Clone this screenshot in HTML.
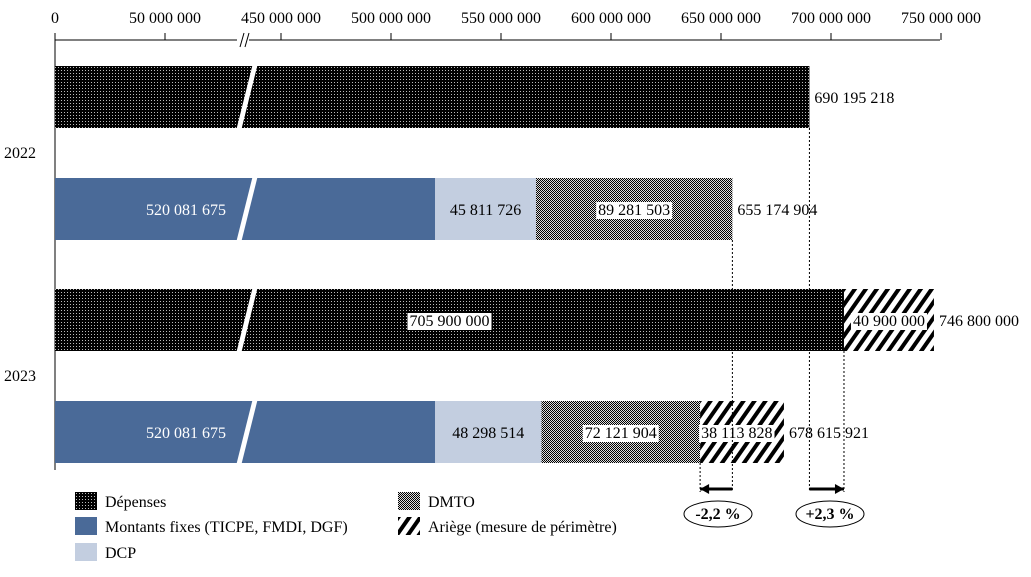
<!DOCTYPE html>
<html><head><meta charset="utf-8"><style>
body{margin:0;background:#fff}
svg{display:block;font-family:"Liberation Serif",serif}
</style></head><body>
<svg id="c" width="1031" height="577" viewBox="0 0 1031 577">
<defs>
<pattern id="pDep" width="3" height="3" patternUnits="userSpaceOnUse"><rect width="3" height="3" fill="#000"/><rect x="1" y="1" width="1" height="1" fill="#bbb"/></pattern>
<pattern id="pDmto" width="2" height="2" patternUnits="userSpaceOnUse"><rect width="2" height="2" fill="#ddd"/><rect width="1" height="1" fill="#000"/><rect x="1" y="1" width="1" height="1" fill="#000"/></pattern>
<pattern id="pAri" width="9" height="9" patternUnits="userSpaceOnUse" patternTransform="rotate(35)"><rect width="9" height="9" fill="#fff"/><rect width="4" height="9" fill="#000"/></pattern>
</defs>
<g id="axis"></g><g id="bars"></g><g id="ann"></g><g id="legend"></g>
</svg>
<script>
const years=["2022","2023"];
const dep=[690195218,705900000];
const ariegeDep=[0,40900000];
const fixes=[520081675,520081675];
const dcp=[45811726,48298514];
const dmto=[89281503,72121904];
const ariegeRec=[0,38113828];
const tickVals=[0,50000000,450000000,500000000,550000000,600000000,650000000,700000000,750000000];
const NS="http://www.w3.org/2000/svg";
const FS=16;
function x(v){return v<=200000000?55+v*110/50000000:281+(v-450000000)*2.2/1e6;}
function fmt(v){return String(Math.round(v)).replace(/\B(?=(\d{3})+(?!\d))/g," ");}
function mk(p,t,a){const e=document.createElementNS(NS,t);for(const k in a)e.setAttribute(k,a[k]);p.appendChild(e);return e;}
const ax=document.getElementById('axis'),bars=document.getElementById('bars'),ann=document.getElementById('ann'),lg=document.getElementById('legend');
let l=mk(ax,'line',{x1:55,y1:40,x2:940,y2:40,stroke:'#000'});


l=mk(ax,'line',{x1:55,y1:33,x2:55,y2:470,stroke:'#000'});


tickVals.forEach(v=>{const xx=x(v);mk(ax,'line',{x1:xx,y1:33,x2:xx,y2:40,stroke:'#000'});
const t=mk(ax,'text',{x:xx,y:23,'text-anchor':'middle','font-size':FS});t.textContent=fmt(v);

});
mk(ax,'rect',{x:237,y:34,width:12,height:12,fill:'#fff'});
mk(ax,'line',{x1:240,y1:47,x2:244,y2:33,stroke:'#000'});
mk(ax,'line',{x1:245,y1:47,x2:249,y2:33,stroke:'#000'});
const rowY=[[66,178],[289,401]],H=62;
function seg(x0,x1,y,fill,name){const r=mk(bars,'rect',{x:x0,y:y,width:x1-x0,height:H,fill:fill});

return r;}
function lab(cx,y,txt,box,anchor){const t=mk(bars,'text',{x:cx,y:y+H/2+6,'text-anchor':anchor||'middle','font-size':FS,fill:box==='w'?'#fff':'#000'});t.textContent=txt;


if(box===true){const b=t.getBBox();const r=mk(bars,'rect',{x:b.x-2,y:b.y,width:b.width+4,height:b.height,fill:'#fff'});bars.insertBefore(r,t);}return t;}
function brk(y){mk(bars,'polygon',{points:`${236},${y+H+3} ${253},${y-3} ${258},${y-3} ${241},${y+H+3}`,fill:'#fff'});}
years.forEach((yr,i)=>{
 const yt=rowY[i][0],yb=rowY[i][1];
 const yl=mk(bars,'text',{x:4,y:(yt+yb+H)/2+5,'font-size':FS});yl.textContent=yr;
 
 
 const dE=x(dep[i]);seg(55,dE,yt,'url(#pDep)','bar-depenses-'+yr);
 let tot=dep[i];
 if(ariegeDep[i]){const e=x(dep[i]+ariegeDep[i]);seg(dE,e,yt,'url(#pAri)','bar-ariege-depenses-'+yr);}
 brk(yt);
 if(ariegeDep[i]){tot+=ariegeDep[i];lab(x(tot-ariegeDep[i]/2),yt,fmt(ariegeDep[i]),true);lab((55+dE)/2,yt,fmt(dep[i]),true);}
 const tE=x(tot);
 const tl=mk(bars,'text',{x:tE+5,y:yt+H/2+6,'font-size':FS});tl.textContent=fmt(tot);
 
 
 let c=fixes[i];const f1=x(c);seg(55,f1,yb,'#4a6a98','bar-montants-fixes-'+yr);
 const c2=c+dcp[i],f2=x(c2);seg(f1,f2,yb,'#c3cee0','bar-dcp-'+yr);
 const c3=c2+dmto[i],f3=x(c3);seg(f2,f3,yb,'url(#pDmto)','bar-dmto-'+yr);
 let rt=c3,f4=f3;
 if(ariegeRec[i]){rt+=ariegeRec[i];f4=x(rt);seg(f3,f4,yb,'url(#pAri)','bar-ariege-recettes-'+yr);}
 brk(yb);
 lab(186,yb,fmt(fixes[i]),'w');lab((f1+f2)/2,yb,fmt(dcp[i]));lab((f2+f3)/2,yb,fmt(dmto[i]),true);
 if(ariegeRec[i]){lab(f3+1,yb,fmt(ariegeRec[i]),true,'start');}
 const rl=mk(bars,'text',{x:f4+5,y:yb+H/2+6,'font-size':FS});rl.textContent=fmt(rt);
 
 
});
const d1=x(dep[0]),d2=x(dep[1]),r1=x(fixes[0]+dcp[0]+dmto[0]),r2=x(fixes[1]+dcp[1]+dmto[1]);
[[d1,128],[r1,240],[d2,351],[r2,463]].forEach(([xx,y0])=>{mk(ann,'line',{x1:xx,y1:y0,x2:xx,y2:492,stroke:'#000','stroke-dasharray':'2,2'});});
function arrow(xa,xb){mk(ann,'line',{x1:xa,y1:489,x2:xb,y2:489,stroke:'#000','stroke-width':3});const dir=xb>xa?-1:1;mk(ann,'polygon',{points:`${xb},489 ${xb+dir*9},484 ${xb+dir*9},494`,fill:'#000'});}
arrow(r1,r2);arrow(d1,d2);
function pill(cx,txt,name){const g=mk(ann,'g',{});

mk(g,'ellipse',{cx:cx,cy:514,rx:34,ry:13,fill:'#fff',stroke:'#000'});const t=mk(g,'text',{x:cx,y:519,'text-anchor':'middle','font-size':FS,'font-weight':'bold'});t.textContent=txt;}
pill(718,'-2,2 %','variation-recettes');pill(830,'+2,3 %','variation-depenses');
const leg=[[75,492,'url(#pDep)','Dépenses'],[75,517,'#4a6a98','Montants fixes (TICPE, FMDI, DGF)'],[75,543,'#c3cee0','DCP'],[398,492,'url(#pDmto)','DMTO'],[398,517,'url(#pAri)','Ariège (mesure de périmètre)']];
leg.forEach(([lx,ly,f,t])=>{const g=mk(lg,'g',{});

mk(g,'rect',{x:lx,y:ly,width:22,height:18,fill:f});const tt=mk(g,'text',{x:lx+30,y:ly+15,'font-size':FS});tt.textContent=t;});
</script>
</body></html>
